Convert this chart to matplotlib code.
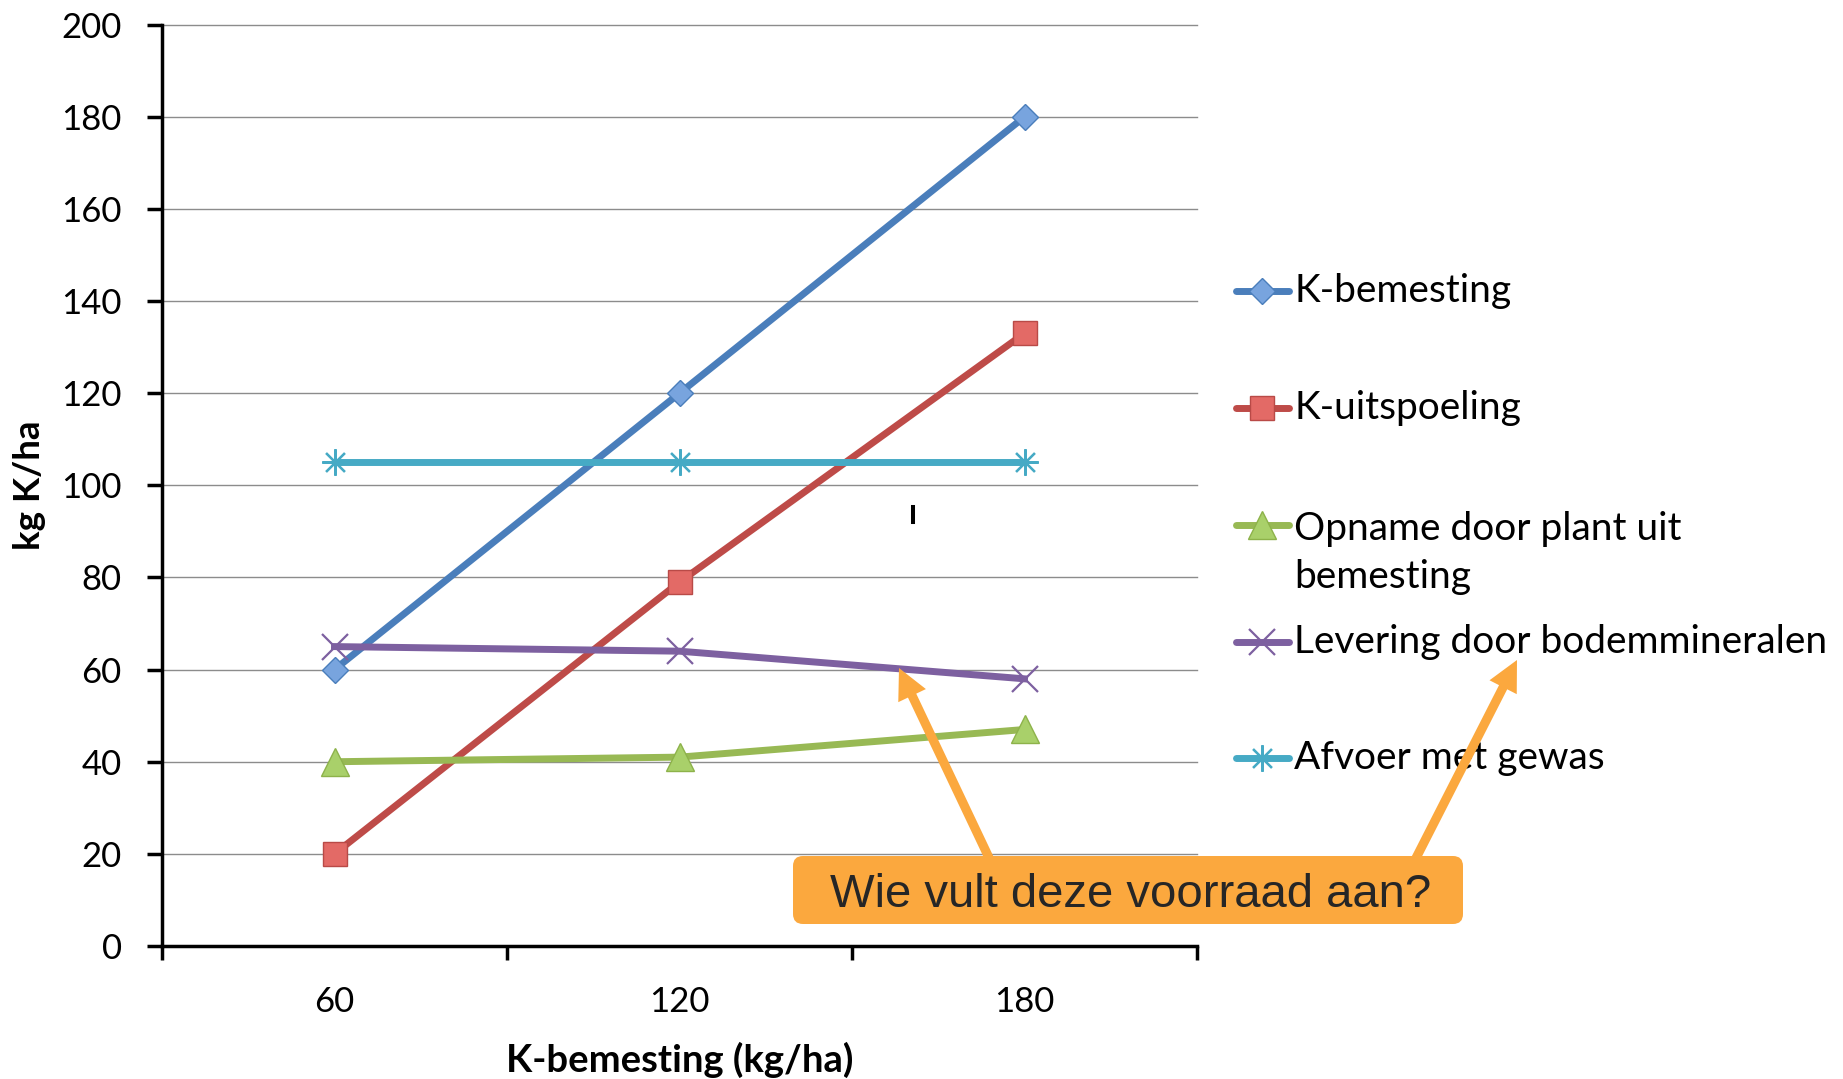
import numpy as np
import matplotlib
matplotlib.use("Agg")
import matplotlib.pyplot as plt
from matplotlib.patches import FancyBboxPatch, FancyArrowPatch

plt.rcParams['font.family'] = ['Lato', 'DejaVu Sans']

# data
categories = ['60', '120', '180']
k_bemesting = [60, 120, 180]
k_uitspoeling = [20, 79, 133]
opname = [40, 41, 47]
levering = [65, 64, 58]
afvoer = [105, 105, 105]

labels = ['K-bemesting', 'K-uitspoeling', 'Opname door plant uit\nbemesting',
          'Levering door bodemmineralen', 'Afvoer met gewas']
series = [k_bemesting, k_uitspoeling, opname, levering, afvoer]

# line colour, marker, marker size, face, edge
styles = [
    dict(color='#4a7ebb', marker='D', ms=13.5, mfc='#78a4de', mec='#4a7ebb', mew=1),
    dict(color='#be4b48', marker='s', ms=17.5, mfc='#e36a66', mec='#b94a47', mew=1),
    dict(color='#98b954', marker='^', ms=19.5, mfc='#a9d06a', mec='#8db24a', mew=1),
    dict(color='#7d60a0', marker='x', ms=19, mfc='#7d60a0', mec='#7d60a0', mew=1.6),
    dict(color='#46aac5', marker=(8, 2, 0), ms=19, mfc='#46aac5', mec='#46aac5', mew=1.6),
]

W, H = 1843, 1079
fig = plt.figure(figsize=(W / 100, H / 100), dpi=100)
left, right, top, bottom = 162, 1197, 24.7, 946
ax = fig.add_axes([left / W, 1 - bottom / H, (right - left) / W, (bottom - top) / H])

x = np.arange(len(categories))
for vals, st in zip(series, styles):
    ax.plot(x, vals, color=st['color'], lw=5, marker=st['marker'], ms=st['ms'],
            mfc=st['mfc'], mec=st['mec'], mew=st['mew'], clip_on=False, zorder=3)

ax.set_xlim(-0.5, len(categories) - 0.5)
ax.set_ylim(0, 200)
ax.set_yticks(np.arange(0, 201, 20))
ax.yaxis.grid(True, color='#8c8c8c', lw=1)
for gl in ax.get_ygridlines():
    gl.set_clip_on(False)

ax.set_xticks(np.arange(-0.5, len(categories), 1.0))
ax.set_xticklabels([])
ax.set_xticks(x, minor=True)
ax.set_xticklabels(categories, minor=True)
ax.tick_params(axis='x', which='major', direction='out', length=10, width=2.5)
ax.tick_params(axis='x', which='minor', length=0, pad=29, labelsize=25)
ax.tick_params(axis='y', direction='out', length=11, width=2.5, pad=18, labelsize=25)

for s in ['top', 'right']:
    ax.spines[s].set_visible(False)
for s in ['left', 'bottom']:
    ax.spines[s].set_linewidth(2.5)
    ax.spines[s].set_color('black')

ax.set_xlabel('K-bemesting (kg/ha)', fontsize=27.5, fontweight='bold')
ax.xaxis.set_label_coords(0.5, -0.1235)
ax.xaxis.label.set_va('center')
ax.set_ylabel('kg K/ha', fontsize=26.5, fontweight='bold')
ax.yaxis.set_label_coords(-0.1285, 0.5)
ax.yaxis.label.set_va('center')

# overlay in pixel coordinates for legend and callout
ov = fig.add_axes([0, 0, 1, 1])
ov.set_xlim(0, W)
ov.set_ylim(H, 0)
ov.axis('off')

leg_y = [291, 408, 525, 642, 758]
for lab, st, y in zip(labels, styles, leg_y):
    ov.plot([1236, 1289], [y, y], color=st['color'], lw=5, solid_capstyle='round')
    ov.plot(1262, y, marker=st['marker'], ms=st['ms'], mfc=st['mfc'],
            mec=st['mec'], mew=st['mew'])
    if '\n' in lab:
        # first line sits level with the handle
        ov.text(1294, y - 14, lab, fontsize=28, va='top', linespacing=1.42)
    else:
        ov.text(1294, y, lab, fontsize=28, va='center')

# small stray mark
ov.plot([913, 913], [507, 522], color='black', lw=2.9)

orange = '#fba83e'
box = FancyBboxPatch((793, 856), 670, 68, boxstyle='round,pad=0,rounding_size=10',
                     fc=orange, ec='none', zorder=5)
ov.add_patch(box)
ov.text(830, 907, 'Wie vult deze voorraad aan?', fontsize=34,
        family=['Liberation Sans', 'DejaVu Sans'], color='#262626',
        ha='left', va='baseline', zorder=6)

for start, tip in [((991, 862), (899, 668)), ((1414, 862), (1517, 660))]:
    arr = FancyArrowPatch(start, tip,
                          arrowstyle='simple,head_length=1.0,head_width=1.0,tail_width=0.3',
                          mutation_scale=22, fc=orange, ec='none',
                          shrinkA=0, shrinkB=0, zorder=4)
    ov.add_patch(arr)

fig.savefig('out.png', dpi=100)
